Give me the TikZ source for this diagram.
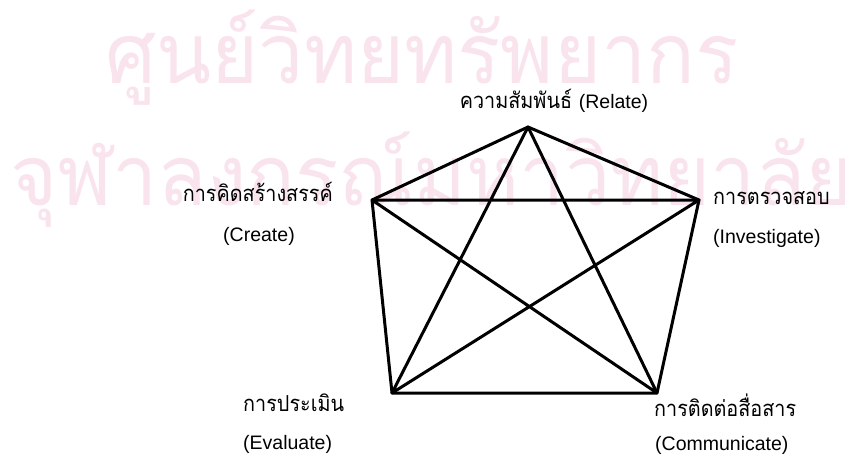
\documentclass[tikz,border=0pt]{standalone}
\usepackage{fontspec}
\setmainfont{Liberation Sans}
\newfontfamily\thai[Script=Thai,FakeStretch=0.9]{Loma}
\newfontfamily\thaiwm[Script=Thai,FakeStretch=0.96]{Loma}
\definecolor{wmpink}{RGB}{249,228,237}
\tikzset{
  edge/.style={line width=3pt, line cap=round, line join=round},
  thlabel/.style={inner sep=0pt, font=\thai\fontsize{22}{26}\selectfont},
  enlabel/.style={inner sep=0pt, font=\fontsize{19.5}{23}\selectfont},
  wmtext/.style={inner sep=0pt, text=wmpink, font=\thaiwm\fontsize{84}{100}\selectfont}
}
\begin{document}
\begin{tikzpicture}[x=1pt,y=-1pt]
\useasboundingbox (0,0) rectangle (845,460);
\begin{scope}
\clip (0,0) rectangle (845,460);
\node[wmtext, anchor=base west] (wm1) at (105,83) {ศูนย์วิทยทรัพยากร};
\node[wmtext, anchor=base west] (wm2) at (10,205) {จุฬาลงกรณ์มหาวิทยาลัย};
\end{scope}
\coordinate (T) at (528,127);
\coordinate (L) at (372,200);
\coordinate (R) at (699,200);
\coordinate (BL) at (392,393);
\coordinate (BR) at (657,393);
\draw[edge] (T) -- (R) -- (BR) -- (BL) -- (L) -- cycle;
\draw[edge] (T) -- (BL) (T) -- (BR) (L) -- (R) (L) -- (BR) (R) -- (BL);
\node[anchor=center, inner sep=0pt] (lT) at (554,101) {\thai\fontsize{22}{26}\selectfont ความสัมพันธ์ \fontsize{19.5}{23}\selectfont\rmfamily(Relate)};
\node[thlabel, anchor=east] (lL) at (333,192) {การคิดสร้างสรรค์};
\node[enlabel, anchor=center] (lL2) at (259,236) {(Create)};
\node[thlabel, anchor=west] (lR) at (713,198) {การตรวจสอบ};
\node[enlabel, anchor=west] (lR2) at (713,238) {(Investigate)};
\node[thlabel, anchor=west] (lBL) at (243,403) {การประเมิน};
\node[enlabel, anchor=west] (lBL2) at (243,444) {(Evaluate)};
\node[thlabel, anchor=west] (lBR) at (654,405) {การติดต่อสื่อสาร};
\node[enlabel, anchor=west] (lBR2) at (655,445) {(Communicate)};
\end{tikzpicture}
\end{document}
